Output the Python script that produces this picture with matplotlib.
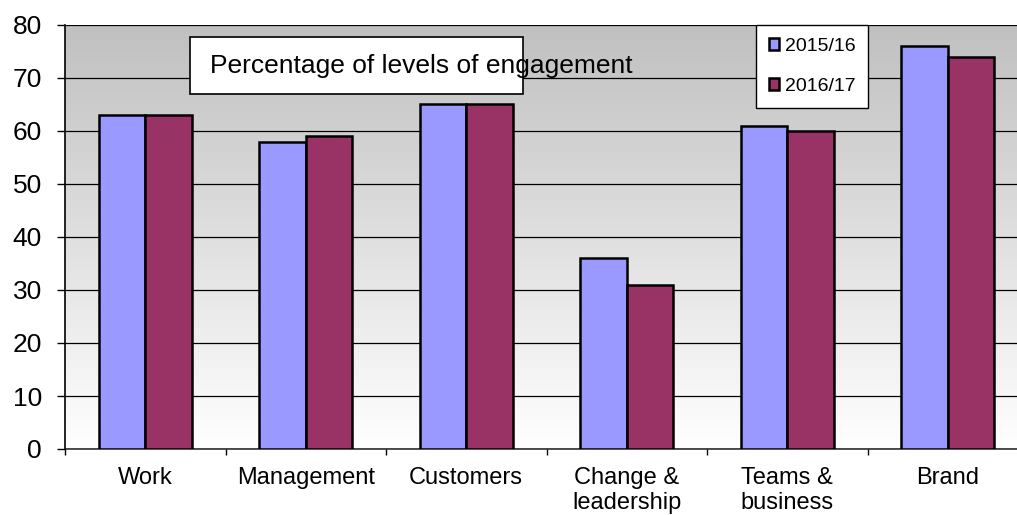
import numpy as np
import matplotlib.pyplot as plt
from matplotlib.patches import Rectangle

plt.rcParams['font.family'] = ['Liberation Sans', 'DejaVu Sans']

# Данные
categories = ['Work', 'Management', 'Customers', 'Change &\nleadership', 'Teams &\nbusiness', 'Brand']
series_names = ['2015/16', '2016/17']
values_1516 = [63, 58, 65, 36, 61, 76]
values_1617 = [63, 59, 65, 31, 60, 74]
colors = ['#9999FF', '#993366']
title_text = 'Percentage of levels of engagement'

W, H = 1017, 515
fig = plt.figure(figsize=(W / 100, H / 100), dpi=100)

# пиксели -> координаты фигуры
def px(x0, y0, x1, y1):
    return [x0 / W, 1 - y1 / H, (x1 - x0) / W, (y1 - y0) / H]

ax = fig.add_axes(px(65, 25, 1028, 449))

x = np.arange(len(categories))
bw = 0.29
b1 = ax.bar(x - bw / 2, values_1516, bw, color=colors[0], edgecolor='black', linewidth=1.8, zorder=3, label=series_names[0])
b2 = ax.bar(x + bw / 2, values_1617, bw, color=colors[1], edgecolor='black', linewidth=1.8, zorder=3, label=series_names[1])

ax.set_xlim(-0.5, len(categories) - 0.5)
ax.set_ylim(0, 80)

# градиентный фон
grad = np.linspace(0, 1, 256).reshape(-1, 1)
ax.imshow(grad, extent=(-0.5, len(categories) - 0.5, 0, 80), aspect='auto',
          cmap=plt.matplotlib.colors.LinearSegmentedColormap.from_list('g', ['white', '#c0c0c0']),
          origin='lower', zorder=0)

ax.set_yticks(range(0, 81, 10))
ax.yaxis.grid(True, color='black', linewidth=0.9, zorder=1)
ax.set_axisbelow(False)
ax.set_xticks(np.arange(-0.5, len(categories), 1))
ax.set_xticklabels([])
ax.set_xticks(x, minor=True)
ax.set_xticklabels(categories, minor=True, fontsize=17, linespacing=1.2)
ax.tick_params(axis='x', which='minor', length=0, pad=13)
ax.tick_params(axis='x', which='major', length=4.5, width=1, direction='out')
ax.tick_params(axis='y', length=5.5, width=1, direction='out', labelsize=19, pad=11)

for s in ['top', 'right']:
    ax.spines[s].set_visible(False)
ax.spines['left'].set_linewidth(1.2)
ax.spines['bottom'].set_linewidth(1.2)
ax.spines['bottom'].set_color('#333333')

# рамка заголовка
r = px(190, 37, 523, 94)
fig.patches.append(Rectangle(r[:2], r[2], r[3], transform=fig.transFigure,
                             facecolor='white', edgecolor='black', linewidth=1.2, zorder=5))
fig.text(210 / W, 1 - 66 / H, title_text, fontsize=19, va='center', ha='left', zorder=6)

leg = ax.legend(handles=[b1, b2], loc='upper left', bbox_to_anchor=(756 / W, 1 - 25 / H), bbox_transform=fig.transFigure,
                frameon=True, fancybox=False, edgecolor='black', framealpha=1, fontsize=14,
                handlelength=0.55, handleheight=0.55, handletextpad=0.3, labelspacing=1.2,
                borderpad=0.65, borderaxespad=0)
leg.get_frame().set_linewidth(1.0)
leg.set_zorder(6)

fig.savefig('out.png', dpi=100)
